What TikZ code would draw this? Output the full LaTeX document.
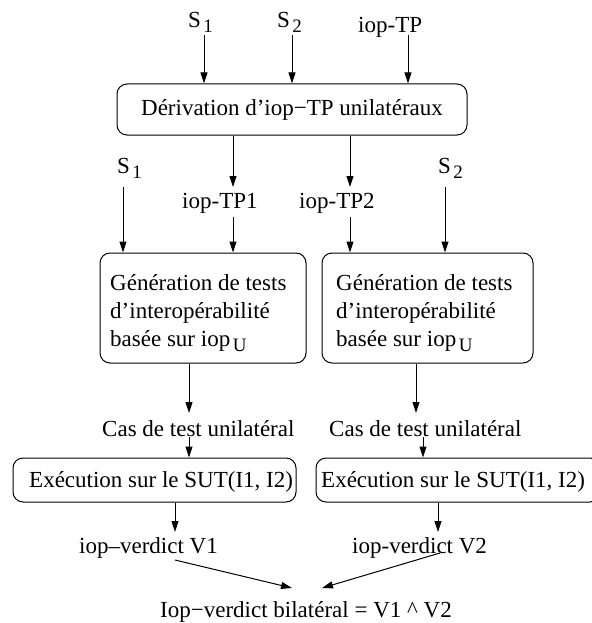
\documentclass[tikz,border=0pt]{standalone}
\usepackage{fontspec}
\setmainfont{Liberation Serif}
\usetikzlibrary{arrows.meta}
% lowered index, as in S 1 or iop U
\newcommand\lowidx[1]{\hspace{2.5pt}\raisebox{-5pt}{\fontsize{19}{19}\selectfont #1}}

\begin{document}
\begin{tikzpicture}[x=1pt,y=-1pt,
  every node/.style={font=\fontsize{23}{28}\selectfont, inner sep=0pt},
  arr/.style={draw=black, line width=1pt, -{Triangle[length=11pt,width=7pt]}},
  box/.style={draw=black, line width=1pt, rounded corners=10pt},
  txt/.style={anchor=base west},
]
\useasboundingbox (0,0) rectangle (591,623);

% ---- inputs of the derivation step
\node[txt] (s1top) at (188,28) {S\lowidx{1}};
\node[txt] (s2top) at (277,28) {S\lowidx{2}};
\node[txt] (tptop) at (358,33) {iop-TP};
\coordinate (ia) at (204,35);
\coordinate (ib) at (292,35);
\coordinate (ic) at (408,35);

\node[box, minimum width=350pt, minimum height=51pt] (deriv) at (292,109.5)
  {Dérivation d’iop−TP unilatéraux};

\draw[arr] (ia) -- (ia |- deriv.north);
\draw[arr] (ib) -- (ib |- deriv.north);
\draw[arr] (ic) -- (ic |- deriv.north);

% ---- unilateral test purposes
\coordinate (tp1in) at (233,187);
\coordinate (tp2in) at (350,187);
\draw[arr] (tp1in |- deriv.south) -- (tp1in);
\draw[arr] (tp2in |- deriv.south) -- (tp2in);

\node[txt] (tp1) at (182,208) {iop-TP1};
\node[txt] (tp2) at (299,208) {iop-TP2};
\node[txt] (s1mid) at (117,173) {S\lowidx{1}};
\node[txt] (s2mid) at (438,173) {S\lowidx{2}};

% ---- test generation boxes
\node[box, minimum width=206pt, minimum height=110pt] (gen1) at (203,308) {};
\node[box, minimum width=211pt, minimum height=110pt] (gen2) at (427.5,308) {};
\node[txt] (g1a) at (110,290) {Génération de tests};
\node[txt] (g1b) at (110,318) {d’interopérabilité};
\node[txt] (g1c) at (110,346) {basée sur iop\lowidx{U}};
\node[txt] (g2a) at (336,290) {Génération de tests};
\node[txt] (g2b) at (336,318) {d’interopérabilité};
\node[txt] (g2c) at (336,346) {basée sur iop\lowidx{U}};

\coordinate (s1o) at (123,187);
\coordinate (tp1o) at (233,217);
\coordinate (tp2o) at (350,217);
\coordinate (s2o) at (445,187);
\draw[arr] (s1o) -- (s1o |- gen1.north);
\draw[arr] (tp1o) -- (tp1o |- gen1.north);
\draw[arr] (tp2o) -- (tp2o |- gen2.north);
\draw[arr] (s2o) -- (s2o |- gen2.north);

% ---- unilateral test cases
\coordinate (tc1) at (189,413);
\coordinate (tc2) at (416,413);
\draw[arr] (tc1 |- gen1.south) -- (tc1);
\draw[arr] (tc2 |- gen2.south) -- (tc2);
\node[txt] (cas1) at (102,436) {Cas de test unilatéral};
\node[txt] (cas2) at (329,436) {Cas de test unilatéral};

% ---- execution on the SUT
\node[box, minimum width=283pt, minimum height=44pt] (exe1) at (154.5,480) {};
\node[box, minimum width=284pt, minimum height=44pt] (exe2) at (458,480) {};
\node[txt] (e1t) at (29,487) {Exécution sur le SUT(I1, I2)};
\node[txt] (e2t) at (321,487) {Exécution sur le SUT(I1, I2)};

\coordinate (c1o) at (189,437);
\coordinate (c2o) at (423,437);
\draw[arr] (c1o) -- (c1o |- exe1.north);
\draw[arr] (c2o) -- (c2o |- exe2.north);

% ---- verdicts
\coordinate (v1in) at (175,532);
\coordinate (v2in) at (438,532);
\draw[arr] (v1in |- exe1.south) -- (v1in);
\draw[arr] (v2in |- exe2.south) -- (v2in);
\node[txt] (v1) at (79,553) {iop–verdict V1};
\node[txt] (v2) at (352,553) {iop-verdict V2};

\node[txt] (bil) at (160,617) {Iop−verdict bilatéral = V1 \^{} V2};
\coordinate (v1o) at (175,560);
\coordinate (v2o) at (440,553);
\coordinate (b1) at (292,588);
\coordinate (b2) at (322,588);
\draw[arr] (v1o) -- (b1);
\draw[arr] (v2o) -- (b2);
\end{tikzpicture}
\end{document}
